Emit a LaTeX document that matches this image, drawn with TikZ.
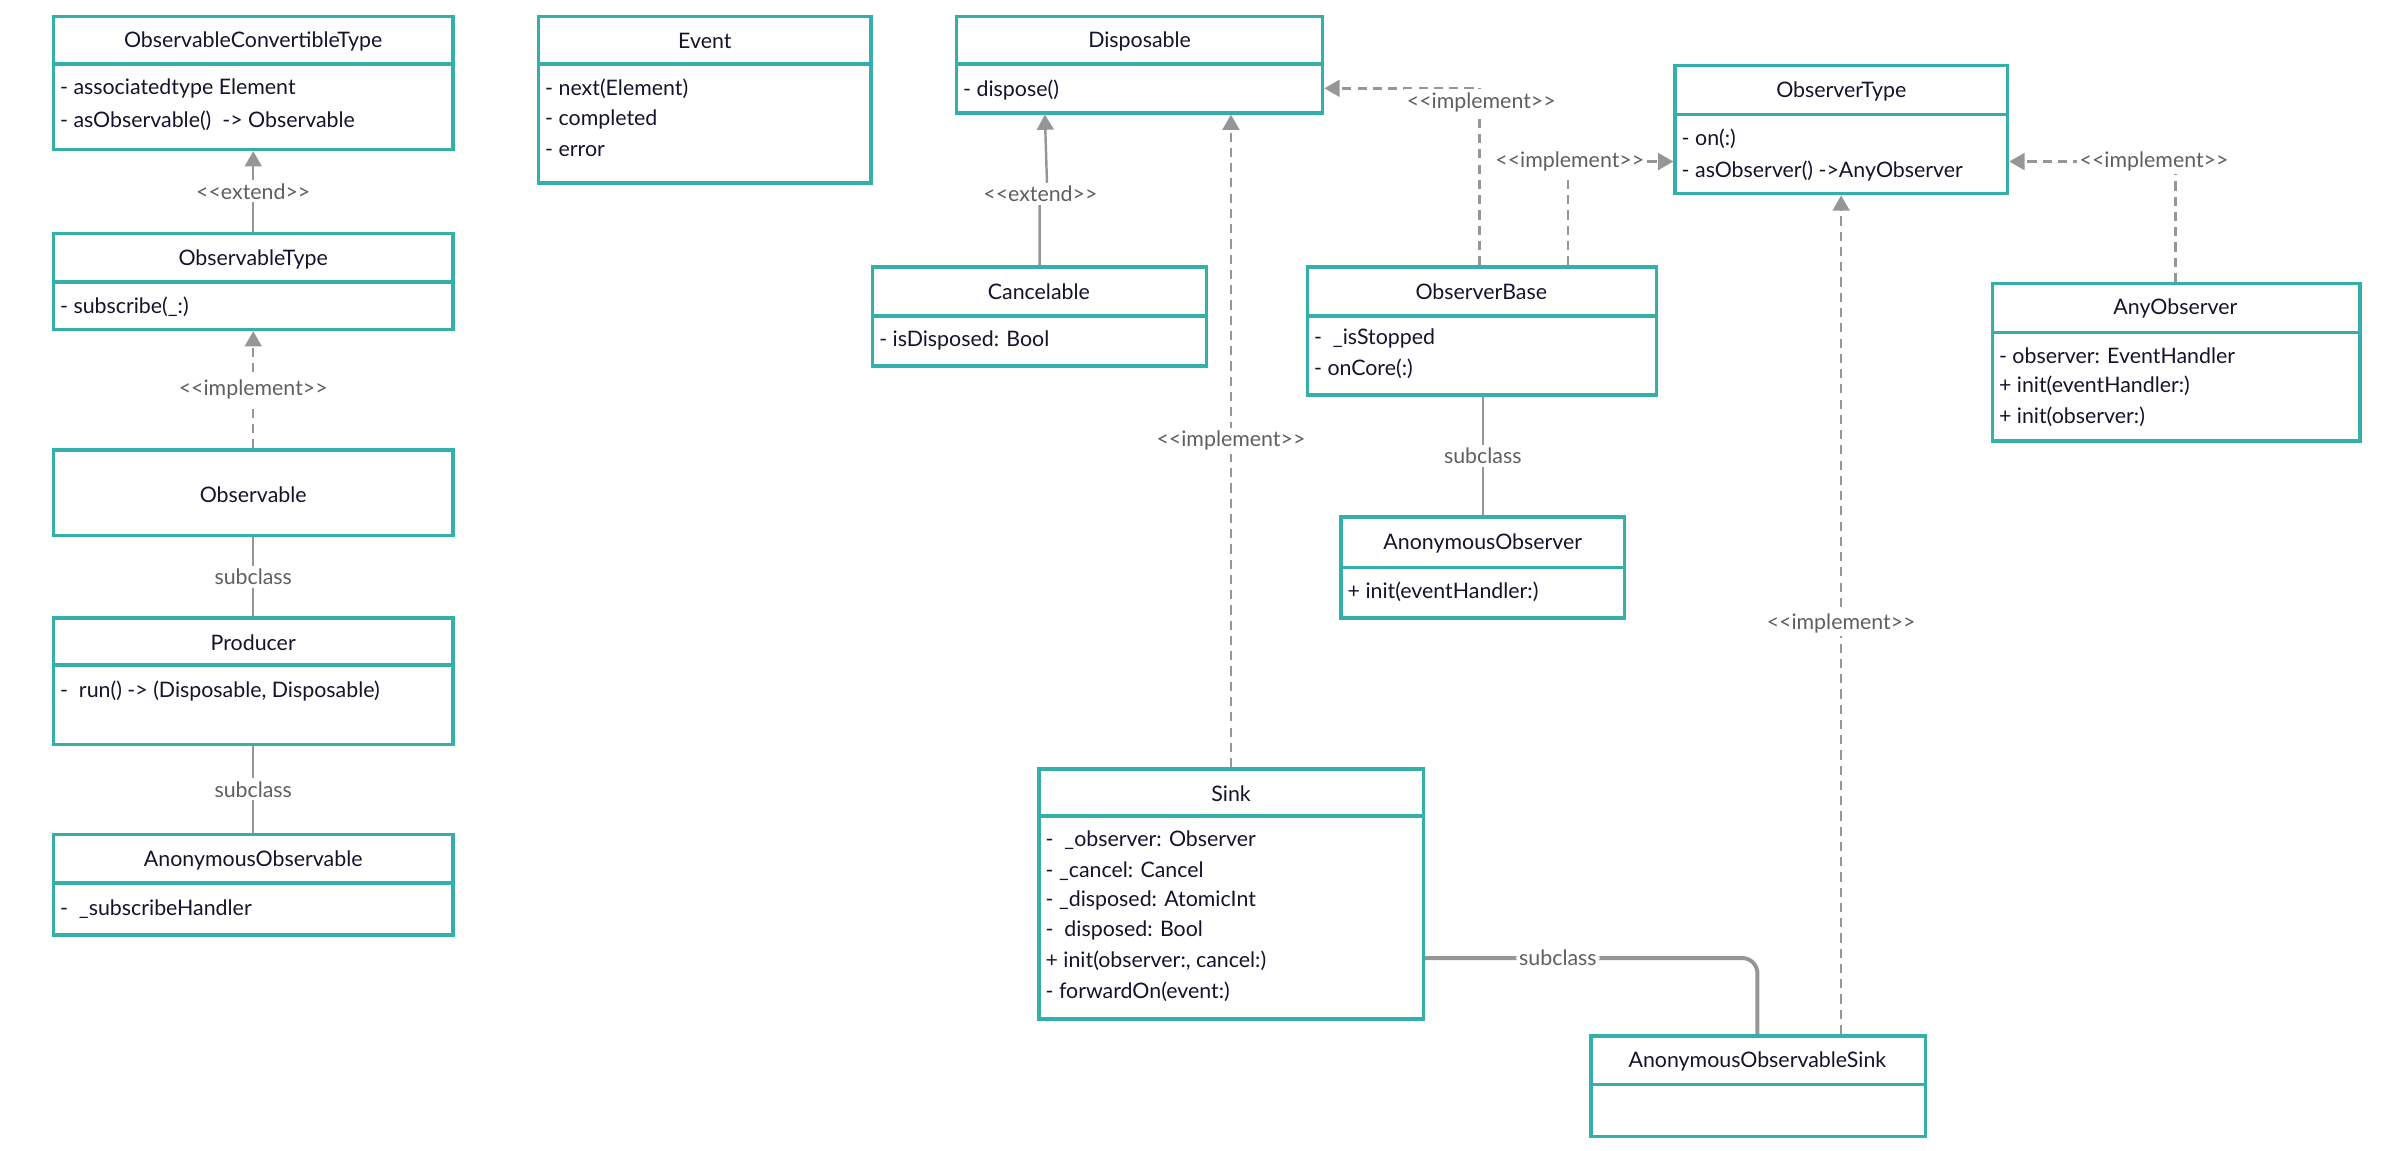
\documentclass[tikz,border=0pt]{standalone}
\usepackage{fontspec}
\setmainfont{Lato}
\usetikzlibrary{arrows.meta,calc,fit}
\definecolor{tealc}{RGB}{52,176,170}
\definecolor{conn}{RGB}{150,150,150}
\definecolor{ink}{RGB}{20,20,45}
\definecolor{lab}{RGB}{95,95,95}
\tikzset{
  cls/.style={draw=tealc,line width=1.1pt,inner sep=0pt,fill=white},
  sepl/.style={draw=tealc,line width=1.2pt},
  ttl/.style={font=\fontsize{7pt}{8pt}\selectfont,text=ink,inner sep=0pt},
  attr/.style={font=\fontsize{7pt}{8pt}\selectfont,text=ink,anchor=west,inner sep=0pt},
  rel/.style={draw=conn,line width=0.8pt},
  impl/.style={rel,dash pattern=on 3pt off 2pt},
  tip/.style={-{Triangle[length=5pt,width=5.5pt]}},
  lbl/.style={font=\fontsize{7pt}{8pt}\selectfont,text=lab,fill=white,inner sep=1pt}
}
\begin{document}
\begin{tikzpicture}[x=0.5pt,y=-0.5pt]
\useasboundingbox (0,0) rectangle (1568,754);
% ObservableConvertibleType
\node[cls,fit={(35,11)(297,98)}] (OCT) {};
\draw[sepl] (35,42)--(297,42);
\node[ttl] (OCTt) at (166,27) {ObservableConvertibleType};
\node[attr] (OCTa) at (39,58) {- associatedtype Element};
\node[attr] (OCTb) at (39,79) {- asObservable()\ \ -> Observable};
% Event
\node[cls,fit={(353,11)(571,120)}] (Ev) {};
\draw[sepl] (353,42)--(571,42);
\node[ttl] (Evt) at (462,27) {Event};
\node[attr] (Eva) at (357,58) {- next(Element)};
\node[attr] (Evb) at (357,78) {- completed};
\node[attr] (Evc) at (357,99) {- error};
% Disposable
\node[cls,fit={(627,11)(867,74)}] (Disp) {};
\draw[sepl] (627,42)--(867,42);
\node[ttl] (Dispt) at (747,27) {Disposable};
\node[attr] (Dispa) at (631,59) {- dispose()};
% ObserverType
\node[cls,fit={(1098,43)(1316,127)}] (OT) {};
\draw[sepl] (1098,75)--(1316,75);
\node[ttl] (OTt) at (1207,60) {ObserverType};
\node[attr] (OTa) at (1102,91) {- on(:)};
\node[attr] (OTb) at (1102,112) {- asObserver() ->AnyObserver};
% ObservableType
\node[cls,fit={(35,153)(297,216)}] (OTy) {};
\draw[sepl] (35,185)--(297,185);
\node[ttl] (OTyt) at (166,170) {ObservableType};
\node[attr] (OTya) at (39,201) {- subscribe(\_:)};
% Cancelable
\node[cls,fit={(572,175)(791,240)}] (Can) {};
\draw[sepl] (572,207)--(791,207);
\node[ttl] (Cant) at (681,191) {Cancelable};
\node[attr] (Cana) at (576,223) {- isDisposed: Bool};
% ObserverBase
\node[cls,fit={(857,175)(1086,259)}] (OB) {};
\draw[sepl] (857,207)--(1086,207);
\node[ttl] (OBt) at (971,191) {ObserverBase};
\node[attr] (OBa) at (861,222) {-\ \ \_isStopped};
\node[attr] (OBb) at (861,242) {- onCore(:)};
% AnyObserver
\node[cls,fit={(1306,186)(1547,289)}] (AO) {};
\draw[sepl] (1306,218)--(1547,218);
\node[ttl] (AOt) at (1426,202) {AnyObserver};
\node[attr] (AOa) at (1310,233) {- observer: EventHandler};
\node[attr] (AOb) at (1310,253) {+ init(eventHandler:)};
\node[attr] (AOc) at (1310,273) {+ init(observer:)};
% Observable
\node[cls,fit={(35,295)(297,351)}] (Obs) {};
\node[ttl] (Obst) at (166,324) {Observable};
% AnonymousObserver
\node[cls,fit={(879,339)(1065,405)}] (AnO) {};
\draw[sepl] (879,372)--(1065,372);
\node[ttl] (AnOt) at (972,356) {AnonymousObserver};
\node[attr] (AnOa) at (883,388) {+ init(eventHandler:)};
% Producer
\node[cls,fit={(35,405)(297,488)}] (Prod) {};
\draw[sepl] (35,436)--(297,436);
\node[ttl] (Prodt) at (166,421) {Producer};
\node[attr] (Proda) at (39,453) {-\ \ run() -> (Disposable, Disposable)};
% AnonymousObservable
\node[cls,fit={(35,547)(297,613)}] (AnObs) {};
\draw[sepl] (35,579)--(297,579);
\node[ttl] (AnObst) at (166,564) {AnonymousObservable};
\node[attr] (AnObsa) at (39,596) {-\ \ \_subscribeHandler};
% Sink
\node[cls,fit={(681,504)(933,668)}] (Sink) {};
\draw[sepl] (681,535)--(933,535);
\node[ttl] (Sinkt) at (807,520) {Sink};
\node[attr] (S1) at (685,551) {-\ \ \_observer: Observer};
\node[attr] (S2) at (685,571) {- \_cancel: Cancel};
\node[attr] (S3) at (685,590) {- \_disposed: AtomicInt};
\node[attr] (S4) at (685,610) {-\ \ disposed: Bool};
\node[attr] (S5) at (685,630) {+ init(observer:, cancel:)};
\node[attr] (S6) at (685,650) {- forwardOn(event:)};
% AnonymousObservableSink
\node[cls,fit={(1043,679)(1262,745)}] (AOS) {};
\draw[sepl] (1043,711)--(1262,711);
\node[ttl] (AOSt) at (1152,696) {AnonymousObservableSink};

% ---- connectors
\draw[rel,tip] (OTy.north) -- node[lbl,pos=0.5] {<{}<extend>{}>} (OCT.south);
\draw[impl,tip] (Obs.north) -- node[lbl,pos=0.5] {<{}<implement>{}>} (OTy.south);
\draw[rel] (Obs.south) -- node[lbl] {subclass} (Prod.north);
\draw[rel] (Prod.south) -- node[lbl] {subclass} (AnObs.north);
\draw[rel,tip] (Can.north) -- ($(Can.north)+(0,-48)$) -- ($(Can.north)+(5,-48)$) -- ($(Disp.south west)+(59,0)$);
\node[lbl] (extl2) at (682,127) {<{}<extend>{}>};
\draw[impl,tip] ($(Sink.north west)+(127,0)$) -- node[lbl,pos=0.5] {<{}<implement>{}>} ($(Disp.south west)+(181,0)$);
\draw[impl,tip] ($(OB.north west)+(114,0)$) |- ($(Disp.north east)+(0,48)$);
\node[lbl] (il1) at (971,67) {<{}<implement>{}>};
\draw[impl,tip] ($(OB.north west)+(172,0)$) |- ($(OT.north west)+(0,64)$);
\node[lbl] (il2) at (1029,106) {<{}<implement>{}>};
\draw[impl,tip] (AO.north -| 1426,0) |- ($(OT.north east)+(0,64)$);
\node[lbl] (il3) at (1412,106) {<{}<implement>{}>};
\draw[rel] (OB.south -| 972,0) -- node[lbl] {subclass} (AnO.north -| 972,0);
\draw[impl,tip] ($(AOS.north west)+(165,0)$) -- node[lbl,pos=0.49] {<{}<implement>{}>} ($(OT.south west)+(110,0)$);
\draw[rel,line width=1.3pt,rounded corners=5pt] (Sink.east |- 0,628) -- node[lbl,pos=0.4] {subclass} (1152,628) -- (AOS.north -| 1152,0);
\end{tikzpicture}
\end{document}
